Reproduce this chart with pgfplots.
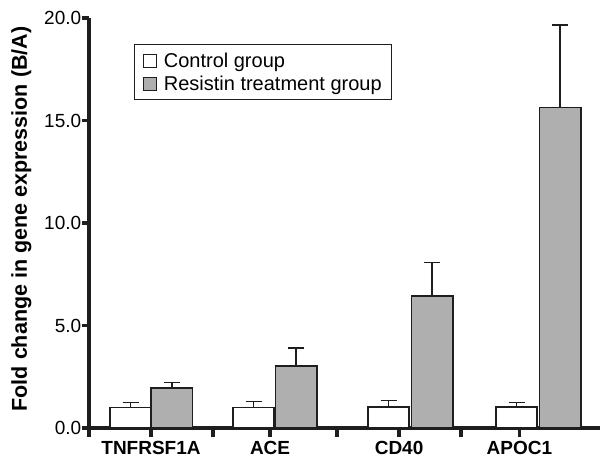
\documentclass[border=0pt]{standalone}
\usepackage{pgfplots}
\pgfplotsset{compat=1.18}
\usepackage{fontspec}
\setmainfont{Liberation Sans}
\definecolor{bargray}{RGB}{175,175,175}
\definecolor{axcol}{RGB}{30,30,30}
\begin{document}
\begin{tikzpicture}
\begin{axis}[
  name=ax,
  scale only axis,
  width=511pt, height=410pt,
  xmin=-0.5, xmax=3.62,
  ymin=0, ymax=20,
  clip=false,
  axis x line=bottom, axis y line=left,
  axis line style={-, draw=axcol, line width=3.6pt},
  tick style={line width=3.6pt, draw=axcol},
  every major tick/.append style={line width=3.6pt, draw=axcol},
  tick align=outside,
  ytick={0,5,10,15,20},
  ytick style={/pgfplots/major tick length=7pt},
  xtick={-0.5,0.5,1.5,2.5},
  xticklabels={},
  xtick style={/pgfplots/major tick length=9pt},
  extra x ticks={0,0.96,2.0,2.97},
  extra x tick labels={TNFRSF1A,ACE,CD40,APOC1},
  extra x tick style={tick style={draw=none}, xticklabel style={font=\fontsize{19}{22}\selectfont\bfseries, yshift=-5pt}},
  yticklabel style={font=\fontsize{19}{22}\selectfont, /pgf/number format/.cd, fixed, fixed zerofill, precision=1, assume math mode=true},
  ylabel={Fold change in gene expression (B/A)},
  ylabel style={font=\fontsize{21.5}{24}\selectfont\bfseries, at={(axis description cs:0,0.5)}, anchor=north, inner sep=0pt, yshift=78pt, xshift=4pt},
  legend style={at={(0.088,0.9366)}, anchor=north west, draw=axcol, line width=1.2pt, font=\fontsize{20}{23}\selectfont, inner xsep=8pt, inner ysep=6pt, row sep=3pt, legend cell align=left},
  error bars/error bar style={line width=1.4pt, draw=axcol},
  error bars/error mark options={rotate=90, mark size=8pt, line width=1.4pt, draw=axcol},
]
\addplot[ybar, bar width=0.333, bar shift=0pt, fill=white, draw=axcol, line width=1.7pt,
  legend image code/.code={\draw[fill=white,draw=axcol,line width=0.9pt] (0pt,-6.5pt) rectangle (13pt,6.5pt); \path (18pt,0pt);},
  error bars/.cd, y dir=plus, y explicit]
  coordinates {(-0.165,1.0) +- (0,0.23) (0.827,1.0) +- (0,0.28) (1.915,1.04) +- (0,0.31) (2.948,1.04) +- (0,0.21)};
\addlegendentry{Control group}
\addplot[ybar, bar width=0.333, bar shift=0pt, fill=bargray, draw=axcol, line width=1.7pt,
  legend image code/.code={\draw[fill=bargray,draw=axcol,line width=0.9pt] (0pt,-6.5pt) rectangle (13pt,6.5pt); \path (18pt,0pt);},
  error bars/.cd, y dir=plus, y explicit]
  coordinates {(0.169,1.94) +- (0,0.29) (1.169,3.04) +- (0,0.86) (2.266,6.45) +- (0,1.63) (3.298,15.64) +- (0,4.02)};
\addlegendentry{Resistin treatment group}
\end{axis}
\pgfresetboundingbox
\path[use as bounding box] ([shift={(-89pt,-32pt)}]ax.south west) rectangle ([shift={(1pt,18pt)}]ax.north east);
\end{tikzpicture}
\end{document}
